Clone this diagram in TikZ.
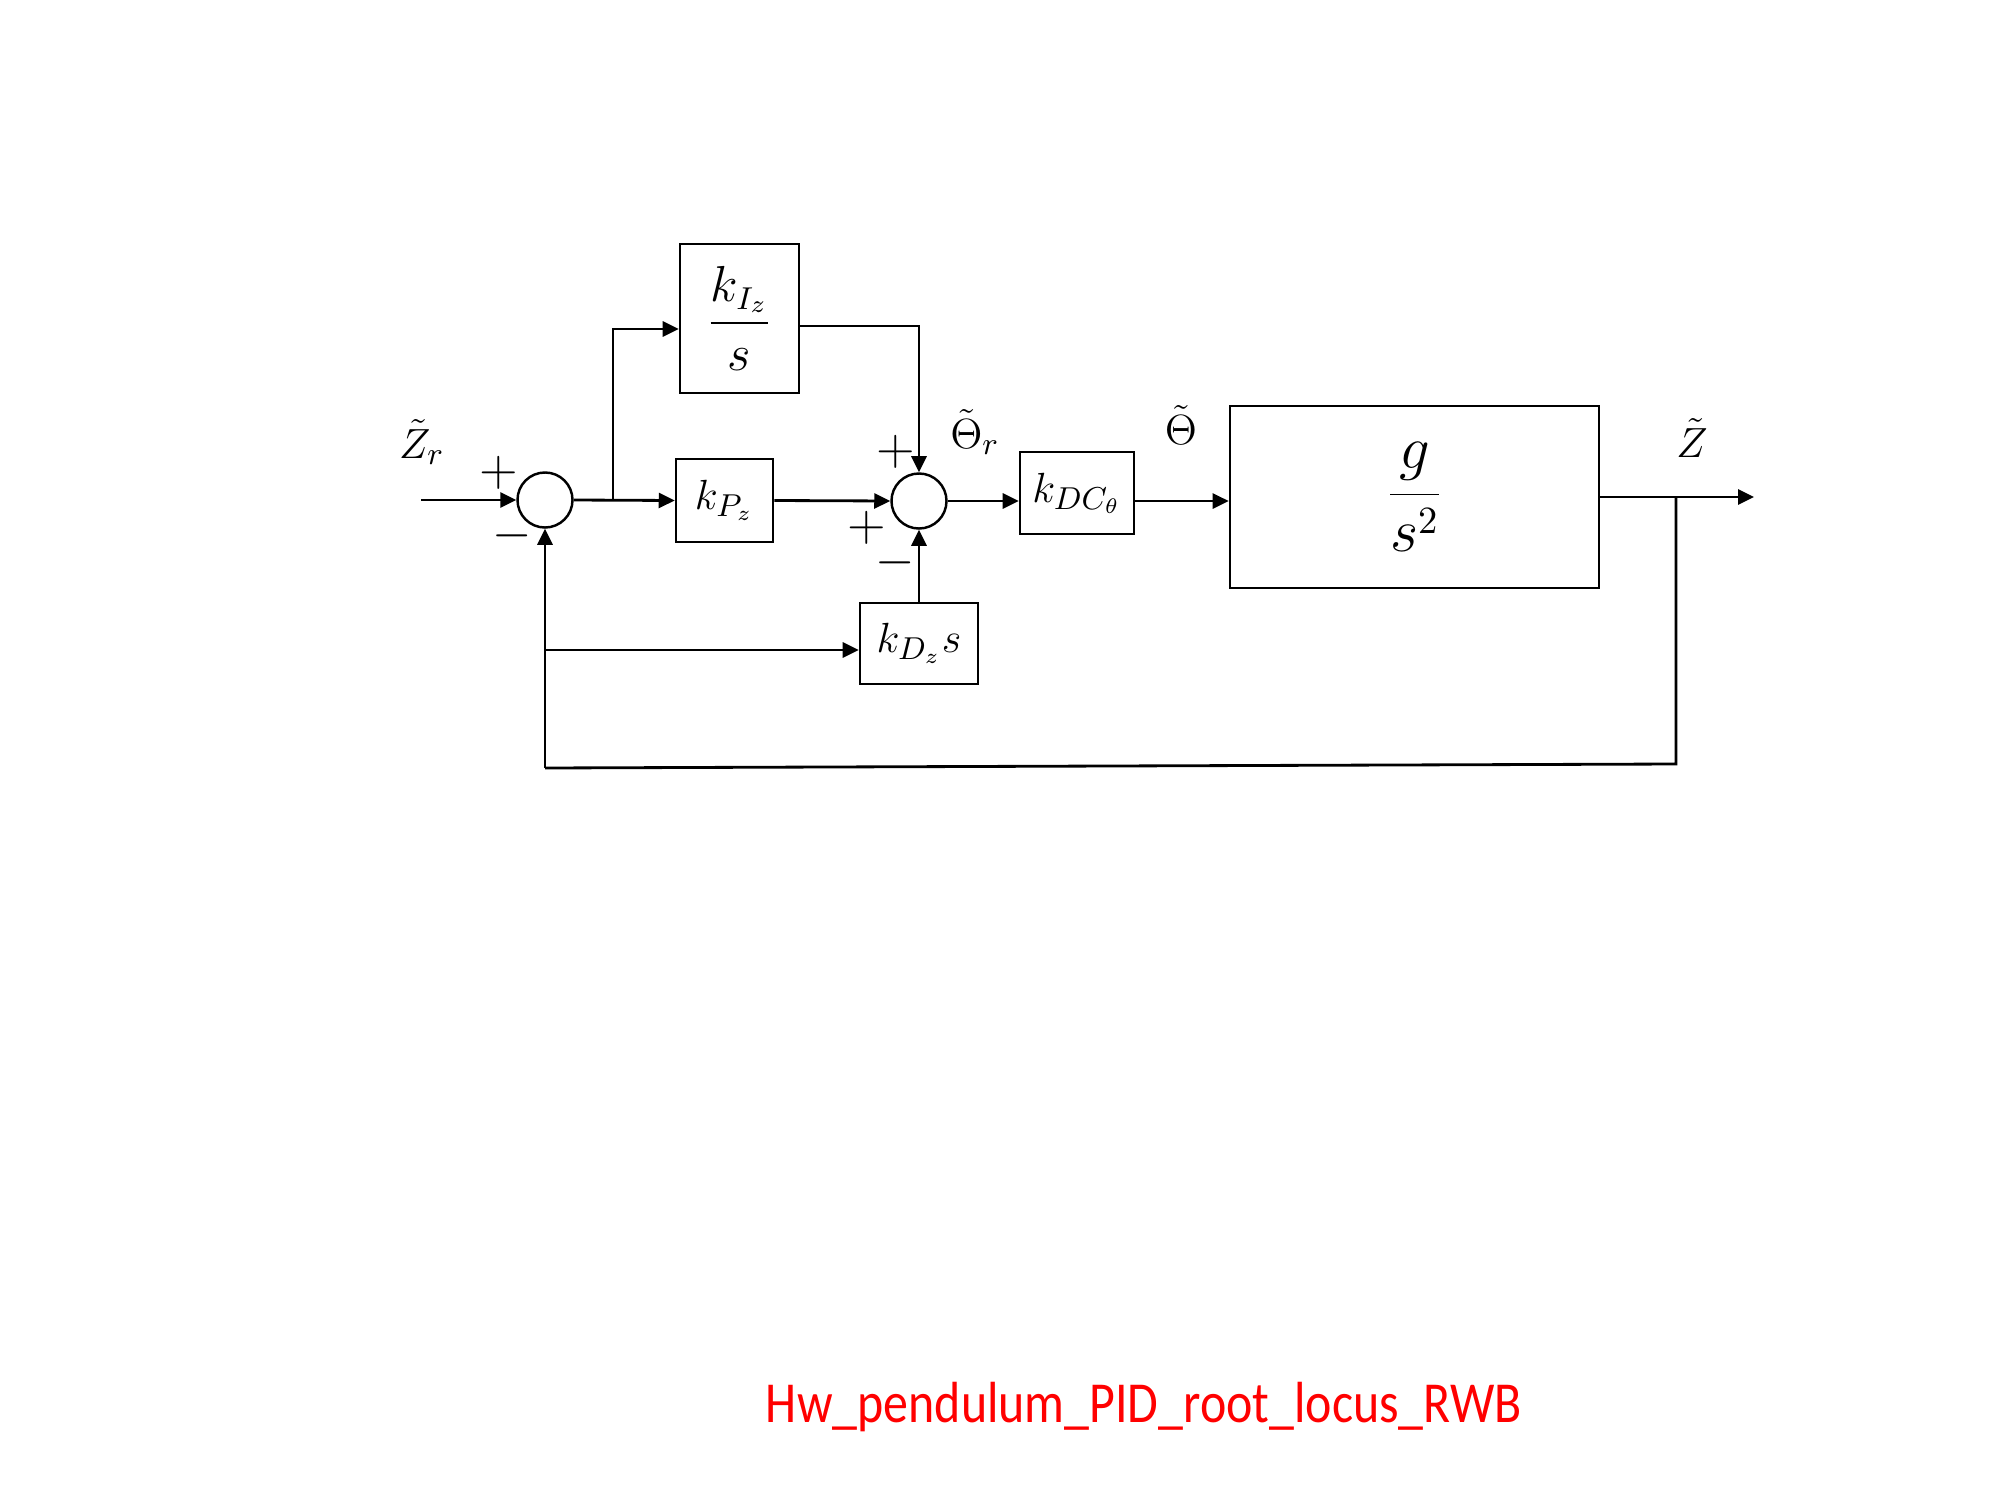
\documentclass[tikz,border=0pt]{standalone}
\usepackage{fontspec}
\newfontfamily\capfont{Carlito}
\usetikzlibrary{arrows.meta}
\begin{document}
\begin{tikzpicture}[x=0.01cm,y=-0.01cm,
  blk/.style={draw, line width=0.7pt, inner sep=0pt, font=\fontsize{13}{15}\selectfont},
  sumc/.style={draw, circle, minimum size=0.55cm, inner sep=0pt, line width=0.7pt},
  sig/.style={-{Triangle[length=1.6mm,width=1.5mm]}, line width=0.8pt},
  wire/.style={line width=0.8pt},
  lbl/.style={font=\fontsize{12.5}{14}\selectfont, inner sep=0pt},
  sgn/.style={font=\fontsize{13.5}{15}\selectfont, inner sep=0pt}]
\useasboundingbox (0,0) rectangle (2000,1500);

% summing junctions
\node[sumc] (s1) at (545,500) {};
\node[sumc] (s2) at (919,501) {};

% blocks
\node[blk, minimum width=1.19cm, minimum height=1.49cm, font=\fontsize{13.5}{16}\selectfont] (ki) at (739.5,318.5) {$\displaystyle\frac{k_{I_z}}{s}$};
\node[blk, minimum width=0.97cm, minimum height=0.83cm] (kp) at (724.5,500.5) {$k_{P_z}$};
\node[blk, minimum width=1.14cm, minimum height=0.82cm] (kdc) at (1077,493) {$k_{DC_\theta}$};
\node[blk, minimum width=3.69cm, minimum height=1.82cm, font=\fontsize{16}{19}\selectfont] (G) at (1414.5,497) {$\displaystyle\frac{g}{s^2}$};
\node[blk, minimum width=1.18cm, minimum height=0.81cm] (kd) at (919,643.5) {$k_{D_z}s$};

% wiring points
\coordinate (zin) at (421,500);
\coordinate (b1) at (613,500);
\coordinate (b2) at (1676,497);
\coordinate (zout) at (1754,497);
\coordinate (fbr) at (1676,764);
\coordinate (fbl) at (545,768);
\coordinate (b3) at (545,650);

% signals
\draw[sig] (zin) -- (s1.west);
\draw[sig] (s1.east) -- (kp.west);
\draw[sig] (b1) |- ([yshift=-1.05mm]ki.west);
\draw[sig] ([yshift=-0.75mm]ki.east) -| (s2.north);
\draw[sig] (kp.east) -- (s2.west);
\draw[sig] (s2.east) -- (s2.east -| kdc.west);
\draw[sig] (kdc.east |- s2.east) -- (G.west |- s2.east);
\draw[sig] (G.east) -- (zout);
\draw[wire] (b2) -- (fbr) -- (fbl);
\draw[sig] (fbl) -- (s1.south);
\draw[sig] (b3) -- (b3 -| kd.west);
\draw[sig] (kd.north) -- (s2.south);

% signal names
\node[lbl] (lzr) at (422,442) {$\tilde Z_r$};
\node[lbl] (lthr) at (975,432) {$\tilde\Theta_r$};
\node[lbl] (lth) at (1181,425) {$\tilde\Theta$};
\node[lbl] (lz) at (1692,438) {$\tilde Z$};

% signs
\node[sgn] (p1) at (499,473) {$+$};
\node[sgn] (m1) at (512,536) {$-$};
\node[sgn] (p2) at (896,452) {$+$};
\node[sgn] (p3) at (867,528) {$+$};
\node[sgn] (m2) at (895,563) {$-$};

% caption
\node[text=red, xscale=0.86, font=\capfont\fontsize{16.5}{20}\selectfont] (cap) at (1144,1407) {Hw\_pendulum\_PID\_root\_locus\_RWB};
\end{tikzpicture}
\end{document}
